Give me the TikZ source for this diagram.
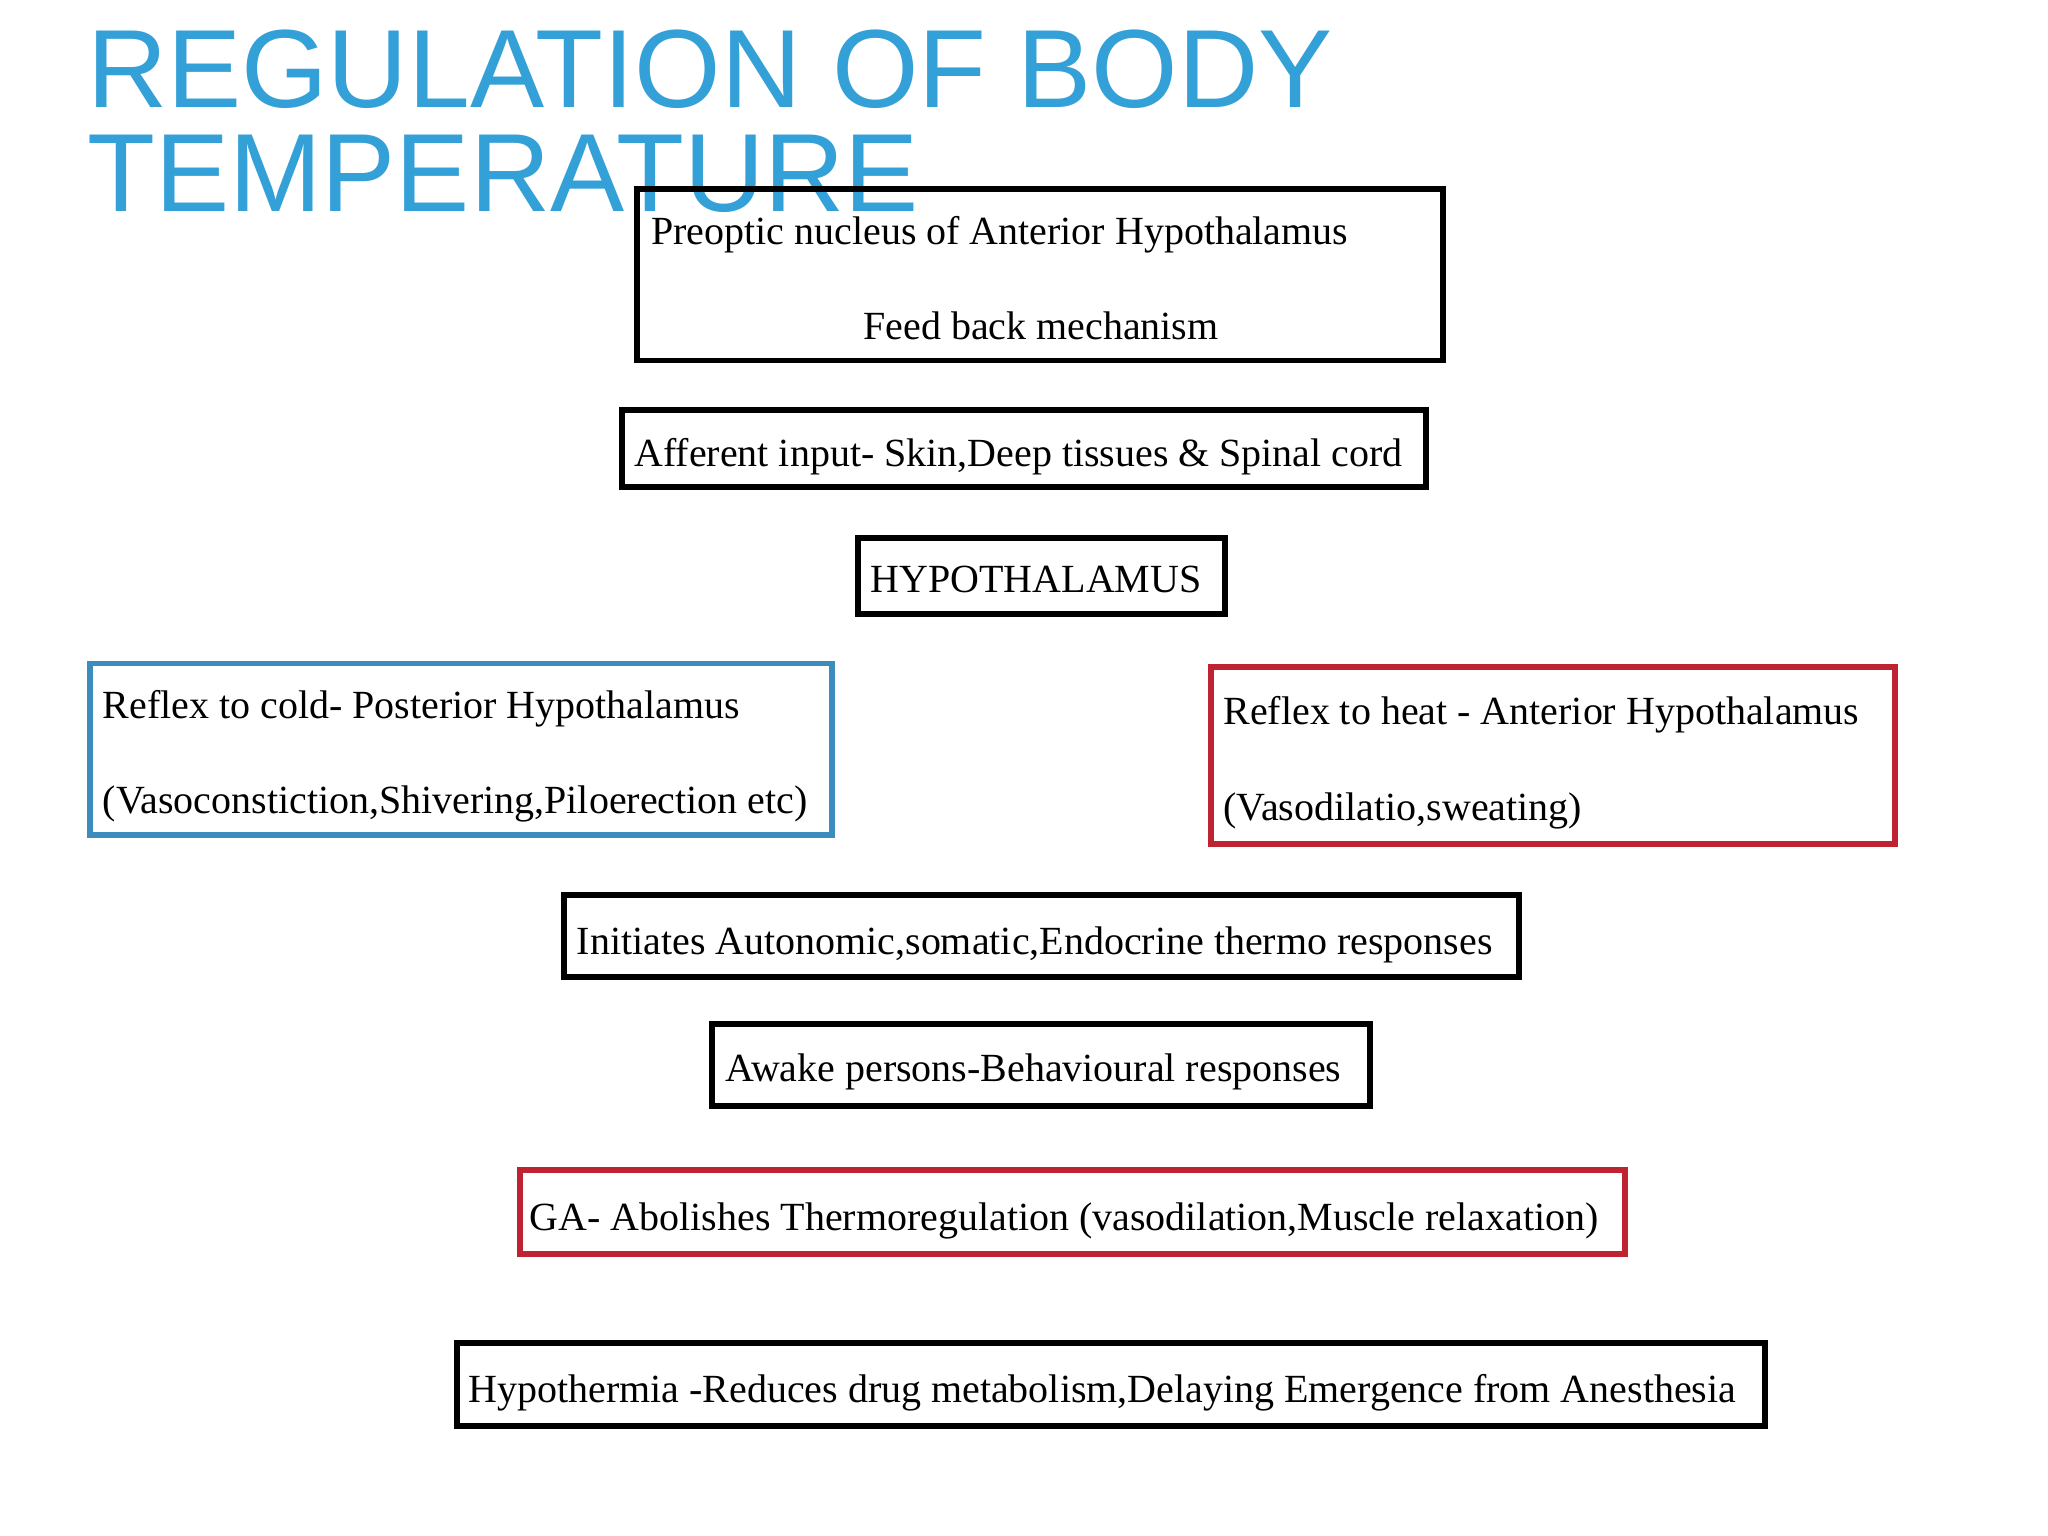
\documentclass[tikz,border=0pt]{standalone}
\usepackage{fontspec}
\setmainfont{Liberation Serif}
\newfontfamily\titlefont{Liberation Sans}
\definecolor{tblue}{RGB}{52,160,216}
\definecolor{bblue}{RGB}{60,140,190}
\definecolor{bred}{RGB}{190,35,50}
\begin{document}
\begin{tikzpicture}[x=0.01cm,y=-0.01cm,
  frame/.style={draw=black,line width=1.3pt},
  txt/.style={font=\fontsize{8.7}{10}\selectfont,inner sep=0pt,anchor=base west}]
\useasboundingbox[fill=white] (0,0) rectangle (1568,1176);
\node[anchor=base west,inner sep=0pt,text=tblue,font=\titlefont\fontsize{24.2}{24}\selectfont] (t1) at (66,82) {REGULATION OF BODY};
\node[anchor=base west,inner sep=0pt,text=tblue,font=\titlefont\fontsize{24.2}{24}\selectfont] (t2) at (66,162) {TEMPERATURE};
\draw[frame] (488,145) rectangle (1105,276);
\node[txt] (a1) at (498,187) {Preoptic nucleus of Anterior Hypothalamus};
\node[txt,anchor=base] (a2) at (797,260) {Feed back mechanism};
\draw[frame] (476,314) rectangle (1092,373);
\node[txt] (b) at (485,357) {Afferent input- Skin,Deep tissues \& Spinal cord};
\draw[frame] (657,412) rectangle (938,470);
\node[txt] (c) at (666,454) {HYPOTHALAMUS};
\draw[frame,draw=bblue] (69,508) rectangle (637,639);
\node[txt] (d1) at (78,550) {Reflex to cold- Posterior Hypothalamus};
\node[txt] (d2) at (78,623) {(Vasoconstiction,Shivering,Piloerection etc)};
\draw[frame,draw=bred] (927,511) rectangle (1451,646);
\node[txt] (e1) at (936,555) {Reflex to heat - Anterior Hypothalamus};
\node[txt] (e2) at (936,628) {(Vasodilatio,sweating)};
\draw[frame] (432,685) rectangle (1163,748);
\node[txt] (f) at (441,731) {Initiates Autonomic,somatic,Endocrine thermo responses};
\draw[frame] (545,784) rectangle (1049,847);
\node[txt] (g) at (555,828) {Awake persons-Behavioural responses};
\draw[frame,draw=bred] (398,896) rectangle (1244,960);
\node[txt] (h) at (405,942) {GA- Abolishes Thermoregulation (vasodilation,Muscle relaxation)};
\draw[frame] (350,1028) rectangle (1351,1092);
\node[txt] (i) at (358,1074) {Hypothermia -Reduces drug metabolism,Delaying Emergence from Anesthesia};
\end{tikzpicture}
\end{document}
